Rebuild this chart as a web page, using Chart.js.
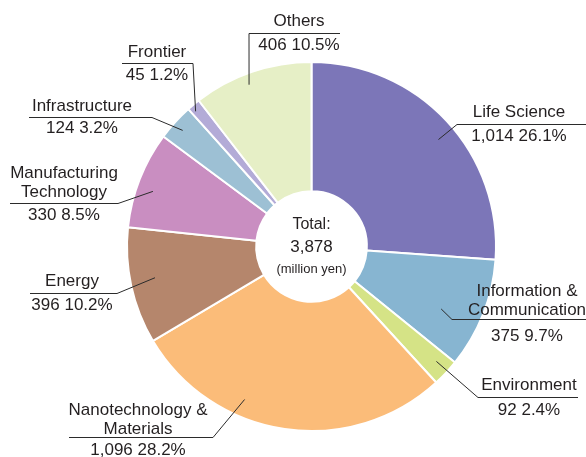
<!DOCTYPE html>
<html>
<head>
<meta charset="utf-8">
<script src="https://cdn.jsdelivr.net/npm/chart.js@4/dist/chart.umd.min.js"></script>
<style>
  html, body { margin: 0; padding: 0; background: #ffffff; }
  #wrap { width: 586px; height: 457px; position: relative; }
</style>
</head>
<body>
<div id="wrap"><canvas id="c" width="586" height="457"></canvas></div>
<script>
// ---- data ----
const categories = ["Life Science", "Information & Communication", "Environment", "Nanotechnology & Materials", "Energy", "Manufacturing Technology", "Infrastructure", "Frontier", "Others"];
const labelLines = [["Life Science"], ["Information &", "Communication"], ["Environment"], ["Nanotechnology &", "Materials"], ["Energy"], ["Manufacturing", "Technology"], ["Infrastructure"], ["Frontier"], ["Others"]];
const values = [1014, 375, 92, 1096, 396, 330, 124, 45, 406];
const percents = ["26.1%", "9.7%", "2.4%", "28.2%", "10.2%", "8.5%", "3.2%", "1.2%", "10.5%"];
const totalLabel = "Total:";
const unitLabel = "(million yen)";

// ---- styles ----
const colors = ["#7c76b8", "#87b5d1", "#d5e386", "#fbbc79", "#b5866c", "#c98ec1", "#9dc0d4", "#b3abd7", "#e6efc6"];

// ---- label layout (annotation placement) ----
// frac: position along the slice, rf: fraction of outer radius for leader anchor
// elbow: where the leader meets the underline, lineX2: other end of underline
// cx: text centre x, nameY: first-line centre y, valueY: value line centre y
const layout = [
  { frac: 0.53, rf: 0.90, elbow: [457, 124], lineX2: 586, cx: 519, nameY: 112, valueY: 136 },
  { frac: 0.62, rf: 0.78, elbow: [452, 319], lineX2: 586, cx: 527, nameY: 291, valueY: 336 },
  { frac: 0.43, rf: 0.92, elbow: [478, 397], lineX2: 578, cx: 529, nameY: 385, valueY: 410 },
  { frac: 0.65, rf: 0.905, elbow: [213, 437], lineX2: 69, cx: 138, nameY: 410, valueY: 450 },
  { frac: 0.53, rf: 0.865, elbow: [117, 293], lineX2: 30, cx: 72, nameY: 281, valueY: 305 },
  { frac: 0.43, rf: 0.91, elbow: [118, 203], lineX2: 10, cx: 64, nameY: 173, valueY: 215 },
  { frac: 0.47, rf: 0.94, elbow: [152, 117], lineX2: 29, cx: 82, nameY: 106, valueY: 128 },
  { frac: 0.30, rf: 0.965, elbow: [193, 63], lineX2: 122, cx: 157, nameY: 52, valueY: 75 },
  { frac: 0.44, rf: 0.94, elbow: [249, 33], lineX2: 340, cx: 299, nameY: 21, valueY: 45 }
];

const FONT = '"Liberation Sans", Arial, Helvetica, sans-serif';
const TEXT = '#231f20';
const fmt = n => n.toLocaleString('en-US');

const labelPlugin = {
  id: 'leaderLabels',
  afterDraw(chart) {
    const ctx = chart.ctx;
    const meta = chart.getDatasetMeta(0);
    ctx.save();
    meta.data.forEach((arc, i) => {
      const p = arc.getProps(['x', 'y', 'startAngle', 'endAngle', 'outerRadius'], true);
      const L = layout[i];
      const a = p.startAngle + L.frac * (p.endAngle - p.startAngle);
      const r = p.outerRadius * L.rf;
      const ax = p.x + Math.cos(a) * r;
      const ay = p.y + Math.sin(a) * r;
      ctx.strokeStyle = '#2b2b2b';
      ctx.lineWidth = 1;
      ctx.beginPath();
      ctx.moveTo(ax, ay);
      ctx.lineTo(L.elbow[0], L.elbow[1] + 0.5);
      ctx.lineTo(L.lineX2, L.elbow[1] + 0.5);
      ctx.stroke();

      ctx.fillStyle = TEXT;
      ctx.font = '17px ' + FONT;
      ctx.textAlign = 'center';
      ctx.textBaseline = 'middle';
      const lines = labelLines[i];
      lines.forEach((t, k) => {
        ctx.fillText(t, L.cx, L.nameY + k * 19);
      });
      ctx.fillText(fmt(values[i]) + ' ' + percents[i], L.cx, L.valueY);
    });

    // centre text
    const p0 = meta.data[0].getProps(['x', 'y'], true);
    const total = values.reduce((s, v) => s + v, 0);
    ctx.fillStyle = TEXT;
    ctx.textAlign = 'center';
    ctx.textBaseline = 'middle';
    ctx.font = '16px ' + FONT;
    ctx.fillText(totalLabel, p0.x, p0.y - 22);
    ctx.font = '17px ' + FONT;
    ctx.fillText(fmt(total), p0.x, p0.y + 1);
    ctx.font = '13px ' + FONT;
    ctx.fillText(unitLabel, p0.x, p0.y + 23);
    ctx.restore();
  }
};

new Chart(document.getElementById('c'), {
  type: 'doughnut',
  data: {
    labels: categories,
    datasets: [{
      data: values,
      backgroundColor: colors,
      borderColor: '#ffffff',
      borderWidth: 2,
      hoverOffset: 0
    }]
  },
  options: {
    responsive: false,
    animation: false,
    cutout: '30%',
    layout: { padding: { left: 126, right: 89, top: 61, bottom: 25 } },
    plugins: {
      legend: { display: false },
      tooltip: { enabled: false },
      title: { display: false }
    }
  },
  plugins: [labelPlugin]
});
</script>
</body>
</html>
